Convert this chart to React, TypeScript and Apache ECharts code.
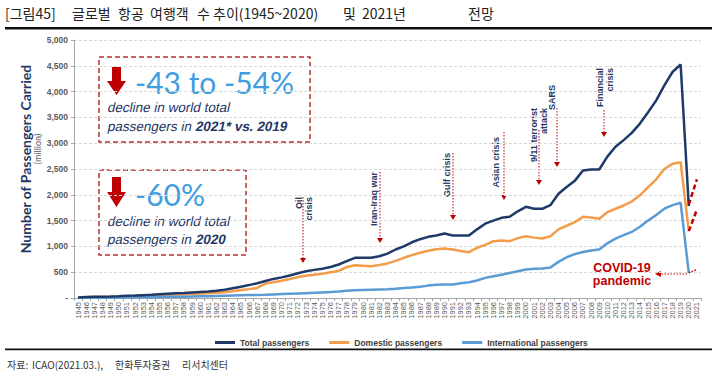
import React, { useEffect, useRef } from "react";
import * as echarts from "echarts";

const years: string[] = Array.from({ length: 77 }, (_, i) => String(1945 + i));

const totalPassengers = [
  10, 18, 22, 26, 30, 35, 42, 48, 55, 62,
  72, 82, 92, 96, 108, 118, 125, 140, 160, 190,
  220, 250, 285, 330, 370, 400, 436, 480, 520, 545,
  566, 600, 649, 715, 779, 780, 779, 810, 860, 940,
  1000, 1080, 1140, 1185, 1211, 1250, 1211, 1211, 1211, 1330,
  1440, 1500, 1554, 1573, 1680, 1767, 1729, 1729, 1798, 2020,
  2150, 2270, 2470, 2490, 2490, 2740, 2930, 3060, 3200, 3380,
  3600, 3830, 4120, 4380, 4525, 1780, null,
];

const domesticPassengers = [
  8, 14, 17, 20, 23, 27, 32, 36, 41, 46,
  53, 60, 67, 70, 78, 85, 90, 100, 113, 133,
  153, 172, 195, 280, 305, 335, 370, 405, 430, 450,
  470, 500, 525, 600, 636, 625, 617, 640, 670, 720,
  779, 830, 876, 915, 945, 959, 940, 910, 888, 973,
  1030, 1100, 1114, 1101, 1160, 1198, 1170, 1153, 1198, 1330,
  1400, 1469, 1573, 1560, 1535, 1663, 1730, 1793, 1870, 1990,
  2150, 2300, 2500, 2600, 2632, 1295, null,
];

const internationalPassengers = [
  2, 4, 5, 6, 7, 8, 10, 12, 14, 16,
  19, 22, 25, 26, 30, 33, 35, 40, 44, 48,
  52, 56, 60, 64, 70, 76, 82, 88, 94, 100,
  108, 116, 126, 140, 148, 155, 160, 165, 170, 180,
  192, 205, 220, 240, 256, 262, 262, 285, 305, 339,
  390, 420, 450, 485, 520, 552, 566, 572, 590, 700,
  790, 850, 890, 920, 940, 1060, 1150, 1220, 1280, 1380,
  1500, 1610, 1730, 1800, 1845, 488, null,
];

const projectionYears = ["2020", "2021"];
const projectionHigh = [1810, 2300];
const projectionLow = [1295, 1715];
const projectionIntl = [488, 552];

const yMin = 0;
const yMax = 5000;
const yInterval = 500;

const NAVY = "#1f3864";
const RED = "#c00000";
const BOXRED = "#b8312f";
const BLUE_TXT = "#3f9de0";

const crises = [
  { text: "Oil\ncrisis", tx: 294, ty: 197, ax: 303, ay1: 197, ay2: 263 },
  { text: "Iran-Iraq war", tx: 369, ty: 172, ax: 380, ay1: 172, ay2: 243 },
  { text: "Gulf crisis", tx: 442, ty: 153, ax: 453, ay1: 153, ay2: 220 },
  { text: "Asian crisis", tx: 491, ty: 137, ax: 504, ay1: 132, ay2: 200 },
  { text: "9/11 terrorist\nattack", tx: 529, ty: 108, ax: 539, ay1: 130, ay2: 185 },
  { text: "SARS", tx: 547, ty: 85, ax: 557, ay1: 108, ay2: 167 },
  { text: "Financial\ncrisis", tx: 595, ty: 68, ax: 604, ay1: 110, ay2: 137 },
];

const italicTexts = ["decline in world total", "passengers in ", "2021* vs. 2019", "2020"];

function downArrow(x: number, y1: number, y2: number) {
  return [
    {
      type: "line",
      shape: { x1: x, y1: y1, x2: x, y2: y2 - 4 },
      style: { stroke: RED, lineWidth: 1, lineDash: [1.5, 1.5] },
    },
    {
      type: "polygon",
      shape: { points: [[x - 3, y2 - 5], [x + 3, y2 - 5], [x, y2]] },
      style: { fill: RED },
    },
  ];
}

function bigArrow(x: number, y: number, h: number) {
  const w = 19;
  const sw = 9;
  const sh = h * 0.5;
  return {
    type: "polygon",
    shape: {
      points: [
        [x + (w - sw) / 2, y],
        [x + (w + sw) / 2, y],
        [x + (w + sw) / 2, y + sh],
        [x + w, y + sh],
        [x + w / 2, y + h],
        [x, y + sh],
        [x + (w - sw) / 2, y + sh],
      ],
    },
    style: { fill: RED },
  };
}

function italicText(x: number, y: number, text: string, bold: boolean) {
  return {
    type: "text",
    x,
    y,
    style: {
      text,
      fontSize: 13.5,
      fontWeight: bold ? "bold" : "normal",
      fontFamily: "Liberation Sans",
      fill: NAVY,
      verticalAlign: "middle",
    },
  };
}

function boxLines(x: number, y1: number, y2: number, boldPart: string) {
  return [
    italicText(x, y1, "decline in world total", false),
    italicText(x, y2, "passengers in ", false),
    italicText(x + 88, y2, boldPart, true),
  ];
}

export default function App() {
  const ref = useRef<HTMLDivElement>(null);

  useEffect(() => {
    document.body.style.margin = "0";
    const chart = echarts.init(ref.current!, null, { renderer: "svg" });

    const graphics: any[] = [];

    // Title
    const titleSegs: [string, number][] = [
      ["[그림45]", 5],
      ["글로벌", 72],
      ["항공", 118],
      ["여행객", 150],
      ["수", 197],
      ["추이(1945~2020)", 213],
      ["및", 343],
      ["2021년", 362],
      ["전망", 468],
    ];
    titleSegs.forEach(([t, x]) => {
      graphics.push({
        type: "text",
        x,
        y: 13,
        style: {
          text: t,
          fontSize: 14,
          fontFamily: "Noto Sans CJK KR",
          fill: "#222",
          verticalAlign: "middle",
          align: "left",
        },
      });
    });
    graphics.push({ type: "rect", shape: { x: 5, y: 27, width: 707, height: 2.5 }, style: { fill: "#111" } });
    graphics.push({ type: "rect", shape: { x: 5, y: 348.5, width: 707, height: 1.8 }, style: { fill: "#111" } });

    // Source
    const srcSegs: [string, number][] = [
      ["자료:", 7],
      ["ICAO(2021.03.),", 32],
      ["한화투자증권", 115],
      ["리서치센터", 182],
    ];
    srcSegs.forEach(([t, x]) => {
      graphics.push({
        type: "text",
        x,
        y: 364,
        style: {
          text: t,
          fontSize: 10,
          fontFamily: "Noto Sans CJK KR",
          fill: "#333",
          verticalAlign: "middle",
        },
      });
    });

    // Y axis name
    graphics.push({
      type: "text",
      x: 25,
      y: 159,
      rotation: Math.PI / 2,
      style: {
        text: "Number of Passengers Carried",
        fontSize: 14,
        fontWeight: "bold",
        fontFamily: "Lato",
        fill: NAVY,
        align: "center",
        verticalAlign: "middle",
      },
    });
    graphics.push({
      type: "text",
      x: 37,
      y: 149,
      rotation: Math.PI / 2,
      style: {
        text: "(million)",
        fontSize: 9,
        fontFamily: "Lato",
        fill: "#595959",
        align: "center",
        verticalAlign: "middle",
      },
    });

    // Box 1
    graphics.push({
      type: "rect",
      shape: { x: 99, y: 57, width: 211, height: 85 },
      style: { fill: "rgba(255,255,255,0.95)", stroke: BOXRED, lineWidth: 1.5, lineDash: [5, 3] },
    });
    graphics.push(bigArrow(107, 67, 28));
    graphics.push({
      type: "text",
      x: 135,
      y: 82,
      style: { text: "-43 to -54%", fontSize: 30, fontFamily: "Lato", fill: BLUE_TXT, verticalAlign: "middle" },
    });
    boxLines(108, 108, 127, "2021* vs. 2019").forEach((g) => graphics.push(g));

    // Box 2
    graphics.push({
      type: "rect",
      shape: { x: 99, y: 170, width: 147, height: 85 },
      style: { fill: "rgba(255,255,255,0.95)", stroke: BOXRED, lineWidth: 1.5, lineDash: [5, 3] },
    });
    graphics.push(bigArrow(107, 177, 30));
    graphics.push({
      type: "text",
      x: 135,
      y: 194,
      style: { text: "-60%", fontSize: 30, fontFamily: "Lato", fill: BLUE_TXT, verticalAlign: "middle" },
    });
    boxLines(108, 222, 240, "2020").forEach((g) => graphics.push(g));

    // Crises annotations
    crises.forEach((c) => {
      downArrow(c.ax, c.ay1, c.ay2).forEach((g) => graphics.push(g));
      graphics.push({
        type: "text",
        x: c.tx,
        y: c.ty,
        rotation: Math.PI / 2,
        style: {
          text: c.text,
          fontSize: 9,
          fontWeight: "bold",
          fontFamily: "Liberation Sans",
          fill: NAVY,
          align: "right",
          verticalAlign: "top",
          lineHeight: 10,
        },
      });
    });

    // COVID annotation
    graphics.push({
      type: "text",
      x: 622,
      y: 268,
      style: {
        text: "COVID-19",
        fontSize: 12.5,
        fontWeight: "bold",
        fontFamily: "Liberation Sans",
        fill: RED,
        align: "center",
        verticalAlign: "middle",
      },
    });
    graphics.push({
      type: "text",
      x: 622,
      y: 281,
      style: {
        text: "pandemic",
        fontSize: 12.5,
        fontWeight: "bold",
        fontFamily: "Liberation Sans",
        fill: RED,
        align: "center",
        verticalAlign: "middle",
      },
    });
    graphics.push({
      type: "line",
      shape: { x1: 687, y1: 274, x2: 660, y2: 274 },
      style: { stroke: RED, lineWidth: 1, lineDash: [1.5, 1.5] },
    });
    graphics.push({
      type: "polygon",
      shape: { points: [[661, 271], [661, 277], [655, 274]] },
      style: { fill: RED },
    });

    chart.setOption({
      animation: false,
      backgroundColor: "#ffffff",
      grid: { left: 74, right: 14, top: 40, bottom: 76, containLabel: false },
      legend: {
        data: ["Total passengers", "Domestic passengers", "International passengers"],
        left: 210,
        top: 333,
        icon: "rect",
        itemWidth: 20,
        itemHeight: 3,
        itemGap: 20,
        textStyle: { fontSize: 8.5, fontWeight: "bold", color: "#404040", fontFamily: "Liberation Sans" },
      },
      xAxis: {
        type: "category",
        data: years,
        boundaryGap: true,
        axisLine: { lineStyle: { color: "#a6a6a6" } },
        axisTick: { show: true, interval: 0, length: 3, lineStyle: { color: "#a6a6a6" } },
        axisLabel: {
          rotate: 90,
          interval: 0,
          fontSize: 7.5,
          color: "#595959",
          margin: 4,
          fontFamily: "Liberation Sans",
        },
      },
      yAxis: {
        type: "value",
        min: yMin,
        max: yMax,
        interval: yInterval,
        axisLine: { show: true, lineStyle: { color: "#a6a6a6" } },
        axisTick: { show: true, length: 3, lineStyle: { color: "#a6a6a6" } },
        splitLine: { lineStyle: { color: "#d9d9d9", type: [3, 2] } },
        axisLabel: {
          fontSize: 8.5,
          fontWeight: "bold",
          color: "#595959",
          margin: 6,
          fontFamily: "Liberation Sans",
          formatter: (v: number) => (v === 0 ? "-" : v.toLocaleString("en-US")),
        },
      },
      series: [
        {
          name: "Total passengers",
          type: "line",
          data: totalPassengers,
          symbol: "none",
          lineStyle: { color: "#1f3a68", width: 2.5 },
          itemStyle: { color: "#1f3a68" },
          z: 4,
        },
        {
          name: "Domestic passengers",
          type: "line",
          data: domesticPassengers,
          symbol: "none",
          lineStyle: { color: "#f39c4a", width: 2.5 },
          itemStyle: { color: "#f39c4a" },
          z: 3,
        },
        {
          name: "International passengers",
          type: "line",
          data: internationalPassengers,
          symbol: "none",
          lineStyle: { color: "#5b9bd5", width: 2.5 },
          itemStyle: { color: "#5b9bd5" },
          z: 3,
        },
        {
          name: "proj-high",
          type: "line",
          data: projectionYears.map((y, i) => [y, projectionHigh[i]]),
          symbol: "none",
          lineStyle: { color: RED, width: 2.5, type: [5, 3] },
          z: 5,
        },
        {
          name: "proj-low",
          type: "line",
          data: projectionYears.map((y, i) => [y, projectionLow[i]]),
          symbol: "none",
          lineStyle: { color: RED, width: 2.5, type: [5, 3] },
          z: 5,
        },
        {
          name: "proj-intl",
          type: "line",
          data: projectionYears.map((y, i) => [y, projectionIntl[i]]),
          symbol: "none",
          lineStyle: { color: RED, width: 1.5, type: "dotted" },
          z: 5,
        },
      ],
      graphic: graphics,
    });

    // Slant the box texts (synthetic italic) through zrender's own transform.
    try {
      const zr: any = chart.getZr();
      const list: any[] = zr.storage.getDisplayList(true);
      list.forEach((d: any) => {
        const t = d && d.style && d.style.text;
        if (typeof t === "string" && italicTexts.indexOf(t) >= 0 && d.style.fontSize !== 7.5) {
          const isAxis = /^\d{4}$/.test(t) && (d.style.font || "").indexOf("13.5") < 0;
          if (isAxis) return;
          d.originX = d.style.x || 0;
          d.originY = d.style.y || 0;
          d.skewX = -0.21;
          d.markRedraw();
        }
      });
      zr.refreshImmediately();
    } catch (e) {
      // ignore
    }

    return () => chart.dispose();
  }, []);

  return <div ref={ref} style={{ width: 715, height: 374 }} />;
}
